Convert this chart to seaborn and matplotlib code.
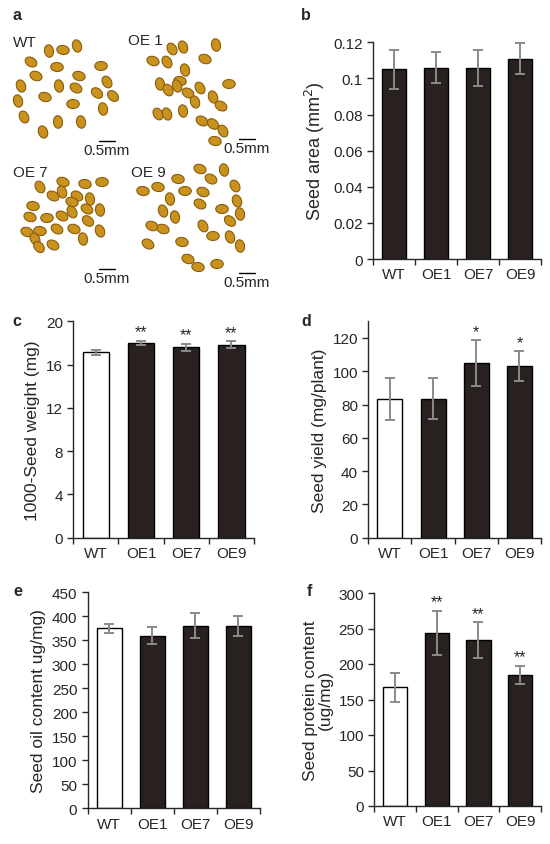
import numpy as np
import pandas as pd
import seaborn as sns
import matplotlib.pyplot as plt
from matplotlib.collections import EllipseCollection

#%%
# data
lines = ['WT', 'OE1', 'OE7', 'OE9']

seedArea = [0.105, 0.106, 0.106, 0.111]
seedAreaErr = [0.011, 0.0085, 0.010, 0.0085]

seedWeight = [17.15, 18.0, 17.6, 17.85]
seedWeightErr = [0.22, 0.22, 0.3, 0.3]
seedWeightSig = ['', '**', '**', '**']

seedYield = [83.2, 83.5, 105.0, 103.0]
seedYieldErr = [12.5, 12.4, 13.6, 9.0]
seedYieldSig = ['', '', '*', '*']

oilContent = [375, 360, 380, 379]
oilContentErr = [10, 18, 26, 21]

proteinContent = [167, 244, 234, 185]
proteinContentErr = [21, 31, 25, 12.5]
proteinContentSig = ['', '**', '**', '**']

# seed photo (panel a): centres in pixels of the panel, angle in degrees
seedX = [49, 63, 77, 31, 36, 57, 79, 101, 21, 59, 76, 97, 107, 113, 18, 45, 73, 103, 24, 58, 81, 43,
         172, 183, 216, 153, 167, 205, 185, 180, 160, 177, 229, 168, 188, 200, 213, 221, 195, 183, 158, 167, 202, 213, 223, 215,
         63, 85, 102, 40, 53, 62, 77, 90, 33, 72, 87, 100, 30, 47, 62, 72, 88, 27, 40, 57, 74, 100, 35, 53, 83, 39,
         200, 224, 178, 211, 143, 158, 185, 203, 235, 170, 200, 222, 237, 163, 175, 240, 152, 163, 203, 230, 213, 230, 148, 182, 240, 188, 217, 198]
seedY = [52, 51, 47, 63, 77, 68, 77, 67, 87, 87, 89, 94, 83, 97, 102, 98, 105, 110, 118, 123, 123, 133,
         50, 48, 46, 62, 63, 60, 71, 82, 85, 87, 85, 91, 94, 89, 98, 107, 103, 112, 115, 115, 122, 125, 132, 142,
         183, 185, 183, 188, 197, 193, 197, 200, 207, 203, 210, 211, 218, 219, 217, 213, 222, 233, 232, 230, 230, 232, 240, 246, 240, 248,
         170, 171, 180, 180, 192, 188, 192, 193, 187, 200, 205, 210, 202, 212, 218, 215, 227, 230, 227, 222, 237, 238, 245, 243, 247, 260, 265, 268]
seedAngle = [80, 10, 75, 30, 20, 5, 15, 0, 70, 80, 30, 40, 60, 45, 75, 15, 0, 80, 65, 85, 80, 70,
             60, 70, 80, 20, 60, 20, 75, 10, 80, 70, 0, 60, 30, 60, 70, 30, 70, 80, 60, 70, 30, 40, 60, 10,
             20, 10, 0, 60, 30, 70, 30, 80, 10, 20, 30, 80, 20, 0, 30, 60, 40, 20, 10, 30, 20, 70, 60, 30, 80, 50,
             20, 80, 10, 30, 10, 10, 0, 20, 60, 80, 30, 0, 70, 70, 80, 80, 20, 20, 60, 40, 0, 70, 30, 10, 80, 20, 0, 10]
photoLabels = ['WT', 'OE 1', 'OE 7', 'OE 9']

#%%
sns.set_style('ticks')
plt.rcParams['font.family'] = ['Liberation Sans', 'DejaVu Sans']

W, H = 550, 845
fig = plt.figure(figsize=(W / 100, H / 100), dpi=100)

darkColor = '#2a201e'
errColor = '#8a8a8a'


def axbox(left, top, right, bottom):
    return fig.add_axes([left / W, 1 - bottom / H, (right - left) / W, (bottom - top) / H])


def barpanel(ax, vals, errs, sig, wtWhite, ylab, ylim, yticks, ytl=None, labsize=12.5):
    df = pd.DataFrame({'line': lines, 'val': vals})
    pal = {l: darkColor for l in lines}
    if wtWhite:
        pal['WT'] = 'white'
    sns.barplot(data=df, x='line', y='val', hue='line', palette=pal, legend=False,
                width=0.58, edgecolor='black', linewidth=1.0, ax=ax, errorbar=None)
    ax.errorbar(np.arange(len(lines)), vals, yerr=errs, fmt='none', ecolor=errColor,
                elinewidth=1.4, capsize=3.5, capthick=1.4, zorder=5)
    if sig is not None:
        for i, s in enumerate(sig):
            if s:
                ax.annotate(s, (i, vals[i] + errs[i]), xytext=(0, 1), textcoords='offset points',
                            ha='center', va='bottom', fontsize=11.5)
    ax.set_xlim(-0.5, len(lines) - 0.5)
    ax.set_ylim(*ylim)
    ax.set_yticks(yticks)
    if ytl is not None:
        ax.set_yticklabels(ytl)
    ax.set_xticks(np.arange(-0.5, len(lines), 1.0))
    ax.set_xticklabels([])
    ax.set_xticks(np.arange(len(lines)), minor=True)
    ax.set_xticklabels(lines, minor=True)
    ax.tick_params(axis='x', which='minor', length=0, labelsize=11, pad=6)
    ax.tick_params(axis='x', which='major', length=4, width=1)
    ax.tick_params(axis='y', length=4, width=1, labelsize=11)
    ax.set_xlabel('')
    ax.set_ylabel(ylab, fontsize=labsize)
    sns.despine(ax=ax)
    for sp in ['left', 'bottom']:
        ax.spines[sp].set_linewidth(1.0)


#%%
# panel a - seed photo
axA = axbox(0, 0, 275, 290)
axA.set_xlim(0, 275)
axA.set_ylim(290, 0)
axA.axis('off')
offs = np.column_stack([seedX, seedY])
ec = EllipseCollection(np.full(len(seedX), 12.5), np.full(len(seedX), 9.0), seedAngle,
                       units='xy', offsets=offs, offset_transform=axA.transData,
                       facecolors='#c8921c', edgecolors='#8a5d0e', linewidths=0.8)
axA.add_collection(ec)
for (tx, ty), lab in zip([(13, 47), (128, 45), (13, 177), (131, 177)], photoLabels):
    axA.text(tx, ty, lab, fontsize=11, va='baseline')
for bx, by in [(83, 155), (223, 153), (83, 283), (223, 287)]:
    axA.text(bx, by, '0.5mm', fontsize=11, va='baseline')
    axA.plot([bx + 16, bx + 32], [by - 13, by - 13], color='black', lw=1)

# panel b
axB = axbox(373, 43.3, 541, 260)
barpanel(axB, seedArea, seedAreaErr, None, False, 'Seed area (mm$^2$)', (0, 0.12),
         [0, 0.02, 0.04, 0.06, 0.08, 0.1, 0.12], ['0', '0.02', '0.04', '0.06', '0.08', '0.1', '0.12'],
         labsize=13)

# panel c
axC = axbox(73.3, 322.3, 254, 538.7)
barpanel(axC, seedWeight, seedWeightErr, seedWeightSig, True, '1000-Seed weight (mg)', (0, 20),
         [0, 4, 8, 12, 16, 20])

# panel d
axD = axbox(368.3, 322.3, 541, 538.7)
barpanel(axD, seedYield, seedYieldErr, seedYieldSig, True, 'Seed yield (mg/plant)', (0, 130),
         [0, 20, 40, 60, 80, 100, 120])

# panel e
axE = axbox(87.7, 593.3, 260, 809.3)
barpanel(axE, oilContent, oilContentErr, None, True, 'Seed oil content ug/mg)', (0, 450),
         list(range(0, 451, 50)))

# panel f
axF = axbox(374.3, 594, 541, 807)
barpanel(axF, proteinContent, proteinContentErr, proteinContentSig, True,
         'Seed protein content\n(ug/mg)', (0, 300), list(range(0, 301, 50)))
axF.yaxis.label.set_linespacing(1.0)

# panel letters
for lx, ly, letter in [(12, 15, 'a'), (301, 16, 'b'), (12, 321, 'c'), (301, 321, 'd'),
                       (13, 592, 'e'), (307, 592, 'f')]:
    fig.text(lx / W, 1 - ly / H, letter, fontsize=11.5, fontweight='bold', va='center')

fig.savefig('out.png', dpi=100)
